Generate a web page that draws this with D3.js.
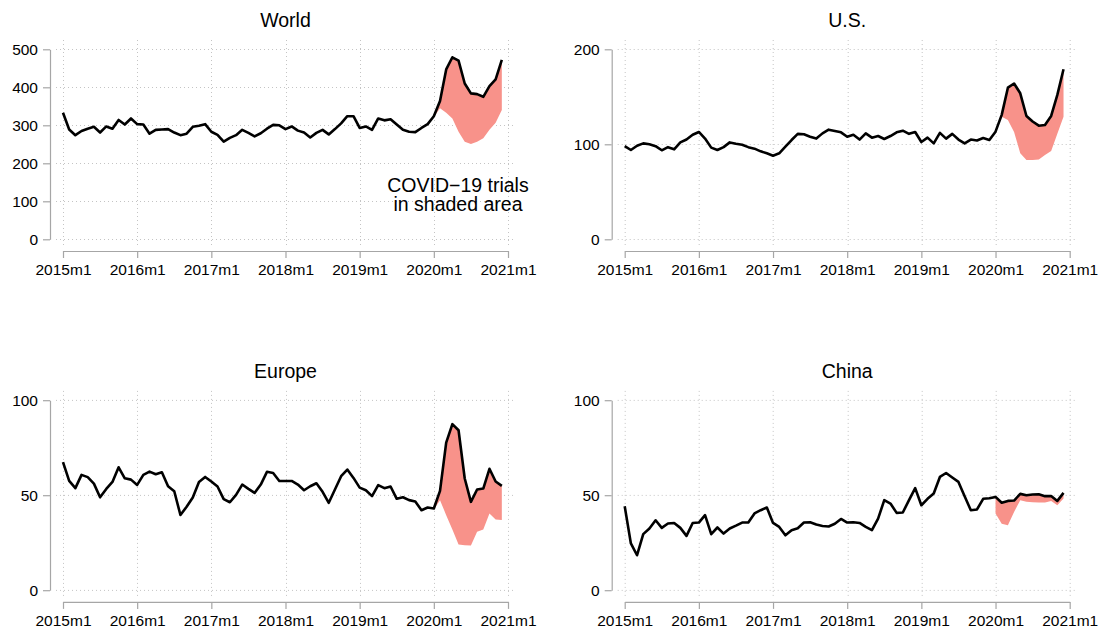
<!DOCTYPE html>
<html>
<head>
<meta charset="utf-8">
<script src="https://cdn.jsdelivr.net/npm/d3@7"></script>
<style>
  html, body { margin: 0; padding: 0; background: #fff; }
  svg { display: block; font-family: "Liberation Sans", Arial, Helvetica, sans-serif; }
</style>
</head>
<body>
<svg id="chart" width="1102" height="633"></svg>
<script>
// ---------- DATA ----------
const startYear = 2015;               // first month = 2015m1
const xTickLabels = ["2015m1", "2016m1", "2017m1", "2018m1", "2019m1", "2020m1", "2021m1"];
const covidStart = 60;                // index of 2020m1, start of shaded area

const titles = ["World", "U.S.", "Europe", "China"];

const world = [333,289,274,285,291,296,281,297,291,314,302,318,
               303,302,278,288,289,290,281,274,278,296,299,303,
               283,275,257,267,274,288,280,271,279,291,301,300,
               290,297,286,281,268,280,288,276,290,305,324,324,
               293,297,288,318,313,316,302,288,283,282,293,303,
               324,364,447,479,470,410,384,382,375,403,421,472];
const worldNonCovid = [322,345,333,318,283,257,251,257,266,288,307,340];

const us = [98,94,98.5,101,100,98,93.7,97,94.7,102,105,110,
            113,106,96.5,94,97,102,100.6,99.6,97,95.4,92.6,90.5,
            88,90.5,97.5,104.5,111,110.5,108,106,111.5,115.4,114,112.6,
            108,110,105,111.5,107,108.7,105.6,108.7,112.6,114.3,111,113,
            102.4,107,101,112,106,111,105,101,105,104,106.6,104.5,
            113.3,131,159.6,164,153.7,129.8,124,119.6,120.3,129.8,152,179];
const usNonCovid = [112,129,125.6,113,90.5,83.5,83.5,84,88.7,93,111,129];

const europe = [67.4,57.5,53.7,60.7,59.5,56.1,48.9,53.3,57,64.7,58.9,58.2,
                55.4,60.7,62.4,61,62.1,54.7,52.1,39.6,43.9,48.8,57,59.6,
                57.2,54.6,47.9,46.3,50.2,55.6,53.3,51.2,55.6,62.3,61.7,57.5,
                57.5,57.5,55.6,52.6,54.7,56.3,51.8,46,53,60,63.5,59.1,
                54,52.6,49.5,55.3,53.7,54.6,48.1,48.9,47.4,46.7,42.1,43.5,
                43,52.3,77.7,87.4,84.2,58.8,46.5,53,53.5,63.9,57.2,54.9];
const europeNonCovid = [42.5,47.4,39.5,32,24,23.7,23.5,30.7,32,40.4,37.2,37];

const china = [44.2,24.6,18.4,29.5,32.5,36.8,32.8,35.1,35.4,32.8,28.6,35.4,
               35.6,39.5,29.5,33,29.8,32.5,34,35.6,35.6,40.4,42.1,43.5,
               35.4,33.3,28.9,31.6,32.6,35.6,35.8,34.6,33.8,33.5,35,37.5,
               35.6,35.8,35.4,33.3,31.6,37.7,47.4,45.6,40.7,40.9,47.4,53.7,
               44.7,48.1,50.9,59.6,61.7,59.3,57,49.5,42.1,42.5,48.1,48.4,
               49.1,46,47,47.2,50.7,50,50.4,50.5,49.5,49.6,47,51.2];
const chinaNonCovid = [40.4,35,34.2,41.2,47.4,46.5,46.3,46.1,46.1,47,44.7,48.2];

const worldYTicks = [0,100,200,300,400,500];
const usYTicks = [0,100,200];
const europeYTicks = [0,50,100];
const chinaYTicks = [0,50,100];

const annotation = ["COVID\u221219 trials", "in shaded area"];

// ---------- LAYOUT ----------
const svg = d3.select("#chart");
const colX = [0, 561.7];
const rowY = [0, 350.9];
const panels = [
  {title: titles[0], values: world,  low: worldNonCovid,  yTicks: worldYTicks,  col: 0, row: 0},
  {title: titles[1], values: us,     low: usNonCovid,     yTicks: usYTicks,     col: 1, row: 0},
  {title: titles[2], values: europe, low: europeNonCovid, yTicks: europeYTicks, col: 0, row: 1},
  {title: titles[3], values: china,  low: chinaNonCovid,  yTicks: chinaYTicks,  col: 1, row: 1}
];

const fillColor = "#f8928a";
const axisColor = "#a6a6a6";
const gridColor = "#c4c4c4";

panels.forEach((p, k) => {
  const dx = colX[p.col], dy = rowY[p.row];
  const g = svg.append("g").attr("transform", `translate(${dx},${dy})`);

  const x = d3.scaleLinear().domain([0, 72]).range([63, 508]);
  const y = d3.scaleLinear().domain([0, d3.max(p.yTicks)]).range([239.3, 49.3]);
  const xTicks = d3.range(0, 73, 12);

  const gl = 56, gr = 515, gt = 40, gb = 247;

  // grid
  const grid = g.append("g").attr("stroke", gridColor).attr("stroke-width", 1)
    .attr("stroke-dasharray", "1,3");
  grid.selectAll("line.h").data(p.yTicks).join("line")
    .attr("x1", gl).attr("x2", gr)
    .attr("y1", d => Math.round(y(d)) + 0.5).attr("y2", d => Math.round(y(d)) + 0.5);
  grid.selectAll("line.v").data(xTicks).join("line")
    .attr("x1", d => Math.round(x(d)) + 0.5).attr("x2", d => Math.round(x(d)) + 0.5)
    .attr("y1", gt).attr("y2", gb);

  // shaded area (COVID-19 trials)
  const areaData = p.low.map((lo, j) => ({i: covidStart + j, lo: lo, hi: p.values[covidStart + j]}));
  g.append("path").datum(areaData)
    .attr("fill", fillColor)
    .attr("d", d3.area().x(d => x(d.i)).y0(d => y(d.lo)).y1(d => y(d.hi)));

  // line
  g.append("path").datum(p.values)
    .attr("fill", "none").attr("stroke", "#000").attr("stroke-width", 2.6)
    .attr("stroke-linejoin", "round")
    .attr("d", d3.line().x((d, i) => x(i)).y(d => y(d)));

  // y axis
  const ya = g.append("g").attr("transform", "translate(50,0)")
    .call(d3.axisLeft(y).tickValues(p.yTicks).tickSize(7).tickSizeOuter(0).tickPadding(5));
  // x axis
  const xa = g.append("g").attr("transform", "translate(0,251)")
    .call(d3.axisBottom(x).tickValues(xTicks).tickFormat((d, i) => xTickLabels[i])
      .tickSize(7).tickSizeOuter(0).tickPadding(6));
  [ya, xa].forEach(a => {
    a.selectAll("path.domain").attr("stroke", axisColor).attr("stroke-width", 1.2);
    a.selectAll(".tick line").attr("stroke", axisColor).attr("stroke-width", 1.2);
    a.selectAll(".tick text").attr("fill", "#000")
      .style("font-size", "15.5px").style("font-family", '"Liberation Sans", Arial, sans-serif');
  });
  xa.selectAll(".tick text").attr("dy", "0.7em");

  // title
  g.append("text").attr("x", (x(0) + x(72)) / 2).attr("y", 27)
    .attr("text-anchor", "middle").style("font-size", "19.5px").text(p.title);

  // annotation in World panel
  if (k === 0) {
    g.append("text").attr("x", 458).attr("y", 191.5)
      .attr("text-anchor", "middle").style("font-size", "19.5px").text(annotation[0]);
    g.append("text").attr("x", 458).attr("y", 210.5)
      .attr("text-anchor", "middle").style("font-size", "19.5px").text(annotation[1]);
  }
});
</script>
</body>
</html>
